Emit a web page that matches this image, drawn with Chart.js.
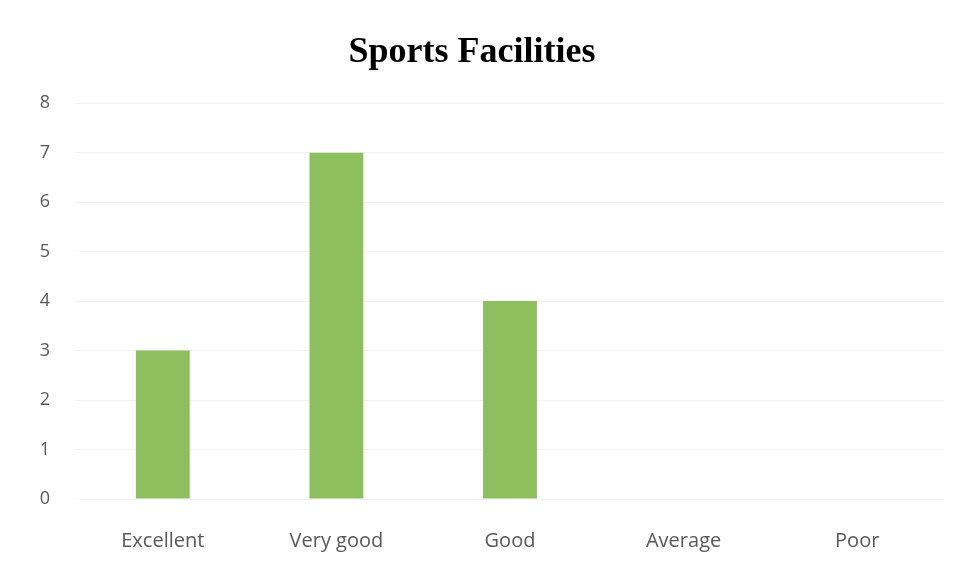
<!DOCTYPE html>
<html><head><meta charset="utf-8">
<script src="https://cdn.jsdelivr.net/npm/chart.js@4/dist/chart.umd.min.js"></script>
<style>html,body{margin:0;padding:0;background:#fff;}#wrap{width:961px;height:577px;position:relative;}</style>
</head><body><div id="wrap"><canvas id="c" width="961" height="577"></canvas></div>
<script>
const categories = ["Excellent", "Very good", "Good", "Average", "Poor"];
const values = [3, 7, 4, 0, 0];
const yTicks = [0, 1, 2, 3, 4, 5, 6, 7, 8];
const title = "Sports Facilities";

new Chart(document.getElementById('c'), {
  type: 'bar',
  data: {
    labels: categories,
    datasets: [{ data: values, backgroundColor: '#8dbf5e', barPercentage: 0.31, categoryPercentage: 1 }]
  },
  options: {
    responsive: false,
    animation: false,
    layout: { padding: { left: 0, right: 17, top: 0, bottom: 2 } },
    plugins: {
      legend: { display: false },
      tooltip: { enabled: false },
      title: { display: true, text: title, color: '#000',
        font: { family: 'Liberation Serif', size: 36, weight: 'bold' },
        padding: { top: 31, bottom: 29 } }
    },
    scales: {
      x: {
        grid: { display: false },
        border: { display: false },
        ticks: { color: '#595959', font: { family: 'Open Sans', size: 20 }, padding: 22, maxRotation: 0 }
      },
      y: {
        min: 0, max: 8,
        afterBuildTicks: s => { s.ticks = yTicks.map(v => ({ value: v })); },
        afterFit: s => { s.width = 76; },
        grid: { color: '#f3f3f3', drawTicks: false },
        border: { display: false },
        ticks: { color: '#595959', font: { family: 'Open Sans', size: 18 }, padding: 26 }
      }
    }
  }
});
</script></body></html>
